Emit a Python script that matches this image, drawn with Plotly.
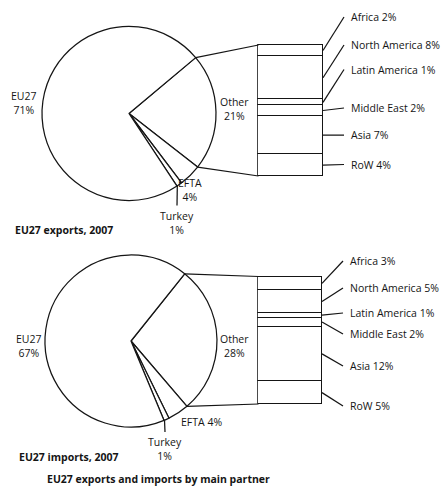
import math
import plotly.graph_objects as go

# ---- data (shares in %) ----
exp_partners = ["Other", "EFTA", "Turkey", "EU27"]
exp_shares = [21, 4, 1, 71]
exp_regions = ["Africa", "North America", "Latin America", "Middle East", "Asia", "RoW"]
exp_region_shares = [2, 8, 1, 2, 7, 4]

imp_partners = ["Other", "EFTA", "Turkey", "EU27"]
imp_shares = [28, 4, 1, 67]
imp_regions = ["Africa", "North America", "Latin America", "Middle East", "Asia", "RoW"]
imp_region_shares = [3, 5, 1, 2, 12, 5]

exp_title = "EU27 exports, 2007"
imp_title = "EU27 imports, 2007"
caption = "EU27 exports and imports by main partner"

# ---- page geometry (pixels) ----
W, H = 441, 486
INK = "#151515"
FONT = "Open Sans"
FS = 10.5
LW = 1.25


def paper(x, y):
    return x / W, 1 - y / H


panels = [
    dict(
        partners=exp_partners, shares=exp_shares,
        regions=exp_regions, region_shares=exp_region_shares,
        title=exp_title, title_xy=(13, 230),
        cx=129, cy=113.5, r=87, other_mid=89,
        bar=(258.5, 323, 45, 176),
        region_label_y=[17, 45, 69.5, 108, 135, 164.5],
        label_xy={"EU27": (24, 103), "Other": (234, 109),
                  "EFTA": (190, 190), "Turkey": (177, 222.5)},
        one_line=[],
        axes=("x", "y"),
    ),
    dict(
        partners=imp_partners, shares=imp_shares,
        regions=imp_regions, region_shares=imp_region_shares,
        title=imp_title, title_xy=(17, 456.5),
        cx=131, cy=341, r=86, other_mid=89,
        bar=(258.5, 322, 276.5, 404),
        region_label_y=[261, 288, 313, 334, 366, 406],
        label_xy={"EU27": (29, 346), "Other": (234, 345.5),
                  "EFTA": (201, 422), "Turkey": (165, 449)},
        one_line=["EFTA"],
        axes=("x2", "y2"),
    ),
]

fig = go.Figure()
shapes = []
annotations = []
line_style = dict(color=INK, width=LW)

for i, p in enumerate(panels):
    total = sum(p["shares"])
    other_deg = 360 * p["shares"][0] / total
    rotation = p["other_mid"] - other_deg / 2

    # pie
    cx, cy, r = p["cx"], p["cy"], p["r"]
    fig.add_trace(go.Pie(
        labels=p["partners"], values=p["shares"], sort=False,
        direction="clockwise", rotation=rotation,
        domain=dict(x=[(cx - r) / W, (cx + r) / W],
                    y=[1 - (cy + r) / H, 1 - (cy - r) / H]),
        marker=dict(colors=["white"] * len(p["shares"]),
                    line=dict(color=INK, width=LW)),
        textinfo="none", hoverinfo="skip", showlegend=False,
    ))

    def rim(angle_deg):
        a = math.radians(angle_deg)
        return cx + r * math.sin(a), cy - r * math.cos(a)

    # stacked bar breaking down "Other"
    bx0, bx1, by0, by1 = p["bar"]
    rsum = sum(p["region_shares"])
    pad = 0.02
    xa, ya = p["axes"]
    bw, bh = bx1 - bx0, by1 - by0
    xdom = [(bx0 - pad * bw) / W, (bx1 + pad * bw) / W]
    ydom = [1 - (by1 + pad * bh) / H, 1 - (by0 - pad * bh) / H]
    for name, val in zip(p["regions"], p["region_shares"]):
        fig.add_trace(go.Bar(
            x=[0], y=[val], width=1, name=name, xaxis=xa, yaxis=ya,
            marker=dict(color="white", line=dict(color=INK, width=LW)),
            hoverinfo="skip", showlegend=False,
        ))
    axkey = "xaxis" if xa == "x" else "xaxis2"
    aykey = "yaxis" if ya == "y" else "yaxis2"
    fig.update_layout(**{
        axkey: dict(domain=xdom, range=[-0.5 - pad, 0.5 + pad], visible=False,
                    fixedrange=True, anchor=ya),
        aykey: dict(domain=ydom, range=[rsum * (1 + pad), -rsum * pad],
                    visible=False, fixedrange=True, anchor=xa),
    })

    # connectors from the "Other" slice to the bar
    ux, uy = rim(rotation)
    lx, ly = rim(rotation + other_deg)
    for (sx, sy), (ex, ey) in [((ux, uy), (bx0, by0)), ((lx, ly), (bx0, by1))]:
        x0, y0 = paper(sx, sy)
        x1, y1 = paper(ex, ey)
        shapes.append(dict(type="line", xref="paper", yref="paper",
                           x0=x0, y0=y0, x1=x1, y1=y1, line=line_style))

    # region leaders and labels
    cum = 0
    for name, val, ly_lab in zip(p["regions"], p["region_shares"], p["region_label_y"]):
        mid = by0 + (cum + val / 2) / rsum * bh
        cum += val
        x0, y0 = paper(bx1, mid)
        x1, y1 = paper(bx1 + 21, ly_lab)
        shapes.append(dict(type="line", xref="paper", yref="paper",
                           x0=x0, y0=y0, x1=x1, y1=y1, line=line_style))
        tx, ty = paper(bx1 + 25.5, ly_lab)
        annotations.append(dict(text=f"{name} {val}%", x=tx, y=ty,
                                xref="paper", yref="paper", showarrow=False,
                                xanchor="left", yanchor="middle"))

    # partner labels
    for name, val in zip(p["partners"], p["shares"]):
        lxp, lyp = p["label_xy"][name]
        sep = " " if name in p["one_line"] else "<br>"
        tx, ty = paper(lxp, lyp)
        annotations.append(dict(text=f"{name}{sep}{val}%", x=tx, y=ty,
                                xref="paper", yref="paper", showarrow=False,
                                xanchor="center", yanchor="middle"))

    # leader to the small Turkey slice
    t_idx = p["partners"].index("Turkey")
    start = rotation + 360 * sum(p["shares"][:t_idx]) / total
    t_mid = start + 180 * p["shares"][t_idx] / total
    sx, sy = rim(t_mid)
    tlx, tly = p["label_xy"]["Turkey"]
    x0, y0 = paper(sx - 2, sy + 1)
    x1, y1 = paper(tlx, tly - 17)
    shapes.append(dict(type="line", xref="paper", yref="paper",
                       x0=x0, y0=y0, x1=x1, y1=y1, line=line_style))

    # panel title
    tx, ty = paper(*p["title_xy"])
    annotations.append(dict(text=f"<b>{p['title']}</b>", x=tx, y=ty,
                            xref="paper", yref="paper", showarrow=False,
                            xanchor="left", yanchor="middle"))

cx_, cy_ = paper(45, 479)
annotations.append(dict(text=f"<b>{caption}</b>", x=cx_, y=cy_,
                        xref="paper", yref="paper", showarrow=False,
                        xanchor="left", yanchor="middle"))

fig.update_layout(
    width=W, height=H,
    margin=dict(l=0, r=0, t=0, b=0),
    paper_bgcolor="white", plot_bgcolor="white",
    barmode="stack", bargap=0,
    font=dict(family=FONT, size=FS, color=INK),
    shapes=shapes, annotations=annotations,
    showlegend=False,
)

fig.write_html("out.html", config={"displayModeBar": False})
